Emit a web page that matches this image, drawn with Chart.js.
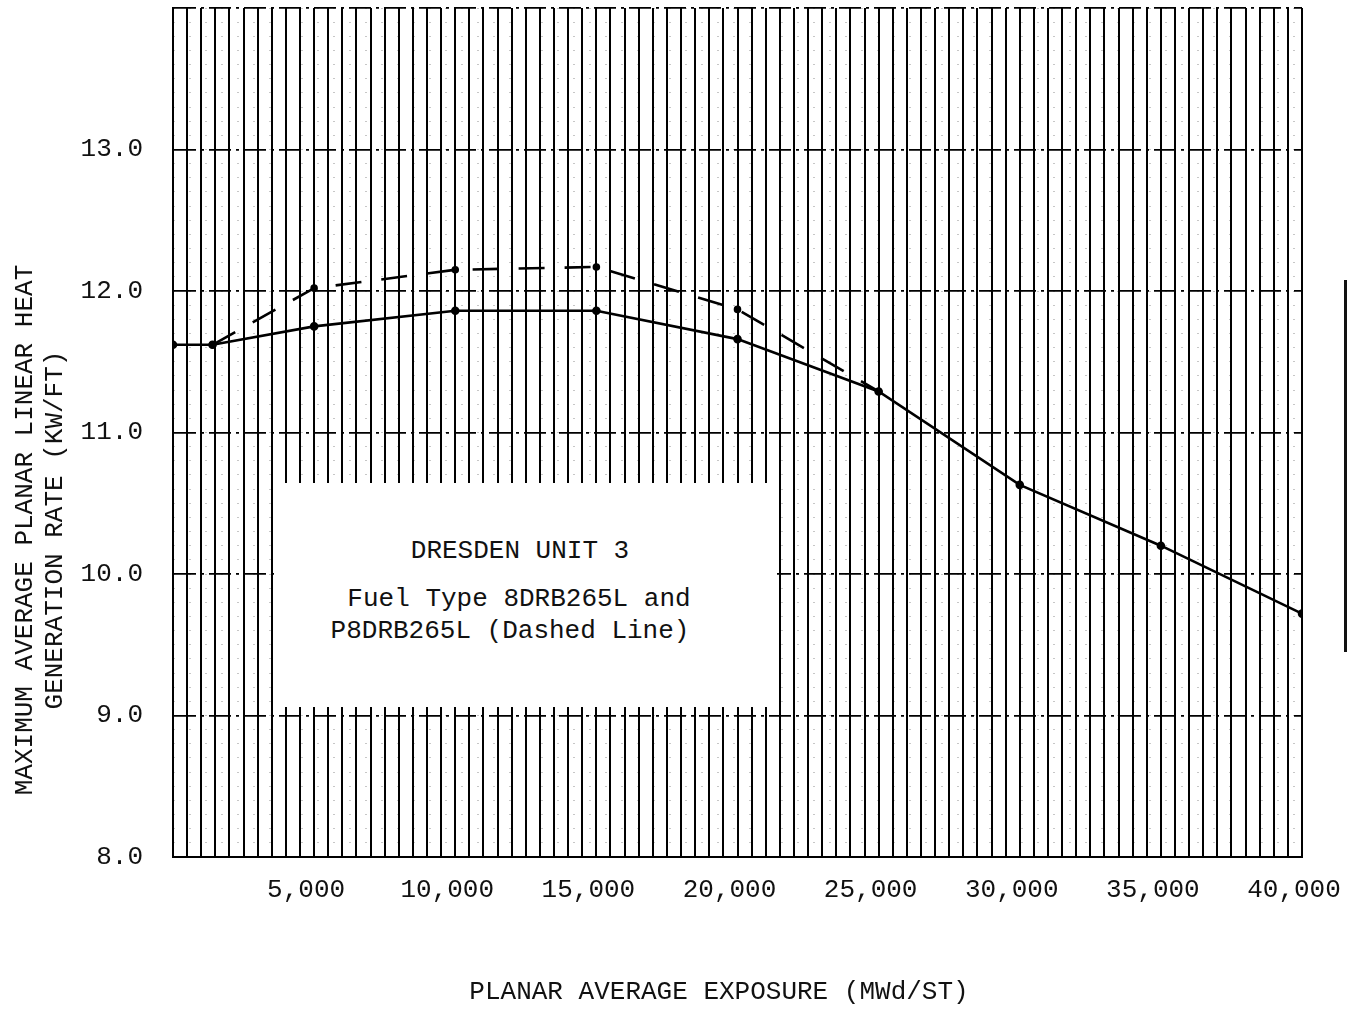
<!DOCTYPE html>
<html lang="en">
<head>
    <meta charset="UTF-8">
    <title>Dresden Unit 3 MAPLHGR</title>
    <script src="https://cdn.jsdelivr.net/npm/chart.js@4.4.1/dist/chart.umd.min.js"></script>
    <style>
        body {
            margin: 0;
            padding: 0;
            background: #fff;
            font-family: 'Liberation Mono', 'DejaVu Sans Mono', monospace;
            color: #111;
        }
        .wrap {
            position: relative;
            width: 1363px;
            height: 1009px;
            overflow: hidden;
        }
        #chart {
            position: absolute;
            left: 0;
            top: 0;
            display: block;
        }
        /* white note box sitting over the grid */
        .note {
            position: absolute;
            left: 274px;
            top: 483px;
            width: 503px;
            height: 224px;
            background: #fff;
        }
        .note div {
            position: absolute;
            font-size: 26px;
            line-height: 30px;
            white-space: nowrap;
            transform: translateX(-50%);
        }
        .ytitle {
            position: absolute;
            left: -280px;
            top: 500px;
            width: 640px;
            height: 60px;
            font-size: 26px;
            line-height: 30px;
            text-align: center;
            transform: rotate(-90deg);
            white-space: nowrap;
        }
        .xtitle {
            position: absolute;
            left: 419px;
            top: 977px;
            width: 600px;
            font-size: 26px;
            line-height: 30px;
            text-align: center;
        }
        .revbar {
            position: absolute;
            left: 1344px;
            top: 280px;
            width: 3px;
            height: 372px;
            background: #111;
        }
    </style>
</head>
<body>
<div class="wrap">
    <canvas id="chart" width="1363" height="1009"></canvas>
    <div class="note">
        <div style="left:246px; top:53px;">DRESDEN UNIT 3</div>
        <div style="left:245px; top:101px;">Fuel Type 8DRB265L and</div>
        <div style="left:236px; top:133px;">P8DRB265L (Dashed Line)</div>
    </div>
    <div class="ytitle">MAXIMUM AVERAGE PLANAR LINEAR HEAT<br>GENERATION RATE (KW/FT)</div>
    <div class="xtitle">PLANAR AVERAGE EXPOSURE (MWd/ST)</div>
    <div class="revbar"></div>
</div>

<script>
// values
const solidExposure = [0, 1400, 5000, 10000, 15000, 20000, 25000, 30000, 35000, 40000];
const solidMaplhgr  = [11.62, 11.62, 11.75, 11.86, 11.86, 11.66, 11.29, 10.63, 10.20, 9.72];

const dashedExposure = [1400, 5000, 10000, 15000, 20000, 25000];
const dashedMaplhgr  = [11.62, 12.02, 12.15, 12.17, 11.87, 11.29];

const xLabelValues = [5000, 10000, 15000, 20000, 25000, 30000, 35000, 40000];
const yLabelValues = [8, 9, 10, 11, 12, 13];

function toPoints(xs, ys) {
    return xs.map((x, i) => ({ x: x, y: ys[i] }));
}

const monoFont = { family: "'Liberation Mono', 'DejaVu Sans Mono', monospace", size: 26 };

const ctx = document.getElementById('chart').getContext('2d');
new Chart(ctx, {
    type: 'line',
    data: {
        datasets: [
            {
                label: '8DRB265L',
                data: toPoints(solidExposure, solidMaplhgr),
                borderColor: '#000',
                backgroundColor: '#000',
                borderWidth: 2.6,
                pointRadius: 3,
                tension: 0
            },
            {
                label: 'P8DRB265L',
                data: toPoints(dashedExposure, dashedMaplhgr),
                borderColor: '#000',
                backgroundColor: '#000',
                borderWidth: 2.6,
                borderDash: [26, 20],
                pointRadius: 2.5,
                tension: 0
            }
        ]
    },
    options: {
        responsive: false,
        animation: false,
        devicePixelRatio: 1,
        layout: { padding: { top: 8, right: 61, left: 0, bottom: 0 } },
        plugins: {
            legend: { display: false },
            tooltip: { enabled: false }
        },
        scales: {
            x: {
                type: 'linear',
                min: 0,
                max: 40000,
                grid: { color: '#000', lineWidth: 2, drawTicks: false },
                border: { color: '#000', width: 2 },
                ticks: {
                    stepSize: 500,
                    autoSkip: false,
                    maxRotation: 0,
                    padding: 18,
                    labelOffset: -8,
                    color: '#111',
                    font: monoFont,
                    callback: v => xLabelValues.includes(v) ? v.toLocaleString('en-US') : ''
                },
                afterFit: s => { s.height = 152; s.paddingLeft = 0; s.paddingRight = 0; }
            },
            y: {
                type: 'linear',
                position: 'left',
                min: 8,
                max: 14,
                grid: { color: '#000', lineWidth: 1.8, drawTicks: false },
                border: { color: '#000', width: 2, dash: [22, 5, 3, 5] },
                ticks: {
                    stepSize: 1,
                    padding: 30,
                    color: '#111',
                    font: monoFont,
                    callback: v => yLabelValues.includes(v) ? v.toFixed(1) : ''
                },
                afterFit: s => { s.width = 173; s.paddingTop = 0; s.paddingBottom = 0; }
            },
            yMinor: {
                type: 'linear',
                position: 'left',
                min: 8,
                max: 14,
                grid: { color: 'rgba(0,0,0,0.22)', lineWidth: 1, drawTicks: false },
                border: { display: false, dash: [2, 14] },
                ticks: { stepSize: 0.1, display: false },
                afterFit: s => { s.width = 0; s.paddingTop = 0; s.paddingBottom = 0; }
            }
        }
    }
});
</script>
</body>
</html>
